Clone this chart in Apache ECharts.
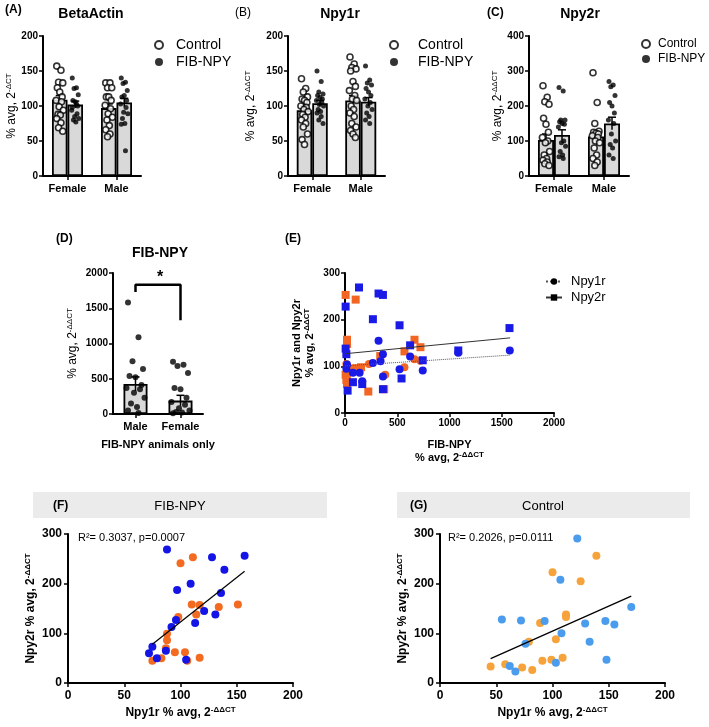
<!DOCTYPE html>
<html>
<head>
<meta charset="utf-8">
<script src="https://cdn.jsdelivr.net/npm/echarts/dist/echarts.min.js"></script>
<style>
html, body { margin: 0; padding: 0; background: #fff; }
#main { width: 709px; height: 727px; }
</style>
</head>
<body>
<div id="main"></div>
<script>
var sexes = ['Female', 'Male'];
var dSexes = ['Male', 'Female'];

// (A) BetaActin
var actinCtrlMean = [109, 97];
var actinCtrlSem = [6, 6];
var actinFibMean = [102, 105];
var actinFibSem = [5, 6];
var actinCtrlF = [157, 151, 134, 133, 126, 120, 113, 108, 106, 99, 94, 88, 87, 82, 76, 69, 64];
var actinCtrlM = [133, 133, 126, 126, 113, 113, 108, 101, 96, 89, 84, 80, 72, 66, 60, 56];
var actinFibF = [140, 126, 125, 116, 108, 106, 100, 94, 89, 85, 82, 80, 77, 98, 103];
var actinFibM = [140, 134, 132, 122, 113, 115, 108, 103, 98, 91, 89, 82, 75, 74, 36];

// (B) Npy1r
var y1CtrlMean = [94, 108];
var y1CtrlSem = [6, 7];
var y1FibMean = [104, 106];
var y1FibSem = [4, 6];
var y1CtrlF = [139, 125, 120, 113, 110, 108, 105, 100, 98, 95, 92, 88, 84, 80, 75, 70, 60, 52, 45];
var y1CtrlM = [170, 160, 155, 153, 150, 135, 128, 122, 115, 110, 108, 100, 95, 90, 85, 75, 70, 65, 60, 55];
var y1FibF = [150, 135, 120, 117, 115, 112, 110, 108, 105, 102, 100, 95, 92, 90, 85, 80, 75];
var y1FibM = [157, 137, 133, 130, 125, 120, 115, 110, 105, 100, 95, 90, 85, 80, 75];

// (C) Npy2r
var y2CtrlMean = [103, 113];
var y2CtrlSem = [17, 15];
var y2FibMean = [117, 150];
var y2FibSem = [15, 18];
var y2CtrlF = [258, 225, 212, 205, 165, 148, 125, 110, 100, 95, 70, 60, 50, 45, 40, 35, 30];
var y2CtrlM = [295, 210, 150, 128, 125, 122, 120, 115, 110, 100, 95, 80, 60, 50, 40, 30];
var y2FibF = [253, 243, 160, 160, 155, 150, 148, 140, 100, 95, 85, 70, 60, 55, 50];
var y2FibM = [270, 260, 255, 230, 210, 200, 180, 160, 150, 120, 100, 90, 80, 60, 50];

// (D) FIB-NPY animals only
var fibMean = [426, 190];
var fibSem = [100, 75];
var fibMale = [1580, 1090, 750, 640, 540, 520, 410, 370, 350, 300, 230, 150, 100, 50, 15];
var fibFemale = [740, 700, 680, 580, 370, 350, 230, 170, 130, 80, 50, 30, 20, 10];
var bracketY = [1730, 1835, 1835, 1330];

// (E) receptor expression vs FIB-NPY
var eBlueNpy1 = [[321, 155], [363, 126], [340, 111], [267, 107], [623, 121], [522, 94], [744, 91], [363, 78], [76, 86], [140, 86], [165, 68], [19, 104], [13, 95], [1577, 134], [1084, 129]];
var eBlueNpy2 = [[134, 269], [321, 256], [363, 253], [6, 228], [267, 201], [522, 188], [623, 145], [744, 113], [541, 74], [1084, 134], [1574, 182], [25, 48], [76, 66], [165, 62], [363, 51], [6, 138], [13, 126]];
var eOrangeNpy1 = [[385, 82], [569, 98], [665, 115], [722, 112], [229, 105], [13, 105], [38, 96], [13, 85], [19, 75]];
var eOrangeNpy2 = [[6, 253], [102, 243], [19, 157], [19, 148], [665, 157], [569, 132], [722, 141], [153, 98], [102, 96], [223, 46], [375, 51], [6, 82], [13, 71], [19, 62], [337, 122]];
var eFitNpy1 = [[0, 101], [1580, 124]];
var eFitNpy2 = [[0, 127], [1580, 161]];

// (F) FIB-NPY: Npy1r vs Npy2r
var fBlue = [[88, 269], [128, 253], [157, 256], [139, 228], [109, 200], [97, 187], [136, 181], [121, 145], [131, 138], [113, 121], [96, 127], [92, 113], [75, 73], [72, 60], [87, 65], [79, 50], [105, 47]];
var fOrange = [[111, 253], [100, 241], [110, 158], [117, 157], [134, 153], [151, 158], [114, 138], [98, 133], [88, 99], [88, 86], [87, 70], [95, 62], [104, 62], [117, 51], [83, 50], [75, 45], [106, 45]];
var fFit = [[75, 78], [157, 225]];

// (G) Control: Npy1r vs Npy2r
var gBlue = [[122, 291], [107, 208], [170, 153], [55, 128], [72, 126], [93, 125], [129, 120], [147, 125], [155, 118], [108, 100], [76, 79], [133, 83], [148, 47], [103, 41], [62, 34], [67, 23]];
var gOrange = [[139, 256], [100, 223], [125, 205], [112, 138], [112, 133], [89, 121], [79, 83], [103, 88], [109, 51], [99, 47], [91, 45], [58, 38], [45, 33], [73, 31], [82, 26]];
var gFit = [[45, 49], [170, 175]];

var FONT = 'Liberation Sans';
var jitter = [-5, 2, -2, 5, -4, 0, 4, -6, 3, -1, 6, -3, 1];

var axisLine = { show: true, lineStyle: { color: '#000', width: 2 } };
var axisTick = { show: true, length: 4, lineStyle: { color: '#000', width: 1.5 } };
var supRich = { sup: { fontSize: 8, verticalAlign: 'top', lineHeight: 14, fontFamily: FONT, color: '#000' } };
var supRichBold = { sup: { fontSize: 8, fontWeight: 'bold', verticalAlign: 'top', lineHeight: 14, fontFamily: FONT, color: '#000' } };
var plain = function (v) { return String(v); };

function catAxis(gi, cats) {
  return {
    type: 'category', gridIndex: gi, data: cats,
    axisLine: axisLine, axisTick: { show: true, alignWithLabel: true, length: 4, lineStyle: { color: '#000', width: 1.5 } },
    axisLabel: { interval: 0, color: '#000', fontWeight: 'bold', fontSize: 11, fontFamily: FONT, margin: 7 }
  };
}

function valAxis(gi, max, interval, opts) {
  var o = {
    type: 'value', gridIndex: gi, min: 0, max: max, interval: interval,
    axisLine: axisLine, axisTick: axisTick, splitLine: { show: false },
    axisLabel: { formatter: plain, color: '#000', fontWeight: 'bold', fontSize: 10, fontFamily: FONT, margin: 5 }
  };
  for (var k in opts) o[k] = opts[k];
  return o;
}

function dots(groups, shift, spread) {
  var out = [];
  groups.forEach(function (vals, c) {
    vals.forEach(function (v, i) {
      out.push({ value: [c, v], symbolOffset: [shift + jitter[i % jitter.length] * spread, 0] });
    });
  });
  return out;
}

function errSeries(gi, means, sems, shift) {
  return {
    type: 'custom', xAxisIndex: gi, yAxisIndex: gi, silent: true, z: 4,
    data: means.map(function (m, i) { return [i, m, sems[i]]; }),
    renderItem: function (params, api) {
      var c = api.value(0), m = api.value(1), s = api.value(2);
      var top = api.coord([c, m + s]);
      var bot = api.coord([c, m - s]);
      var x = top[0] + shift;
      return {
        type: 'group', children: [
          { type: 'line', shape: { x1: x, y1: bot[1], x2: x, y2: top[1] }, style: { stroke: '#000', lineWidth: 1.5 } },
          { type: 'line', shape: { x1: x - 4, y1: top[1], x2: x + 4, y2: top[1] }, style: { stroke: '#000', lineWidth: 1.5 } }
        ]
      };
    }
  };
}

function barStyle() {
  return { color: '#d9d9d9', borderColor: '#000', borderWidth: 1.8 };
}

function barPanel(gi, ctrlMean, ctrlSem, fibMean, fibSem, ctrlF, ctrlM, fibF, fibM, bw) {
  var half = bw / 2;
  return [
    { type: 'bar', name: 'Control mean', xAxisIndex: gi, yAxisIndex: gi, data: ctrlMean, barWidth: bw, barGap: '0%', itemStyle: barStyle(), silent: true },
    { type: 'bar', name: 'FIB-NPY mean', xAxisIndex: gi, yAxisIndex: gi, data: fibMean, barWidth: bw, barGap: '0%', itemStyle: barStyle(), silent: true },
    errSeries(gi, ctrlMean, ctrlSem, -half),
    errSeries(gi, fibMean, fibSem, half),
    { type: 'scatter', name: 'Control', xAxisIndex: gi, yAxisIndex: gi, z: 5, symbolSize: 6,
      itemStyle: { color: '#fff', borderColor: '#000', borderWidth: 1.6 }, data: dots([ctrlF, ctrlM], -half, 0.6) },
    { type: 'scatter', name: 'FIB-NPY', xAxisIndex: gi, yAxisIndex: gi, z: 5, symbolSize: 5,
      itemStyle: { color: '#000' }, data: dots([fibF, fibM], half, 0.6) }
  ];
}

function fitLine(gi, name, data, dashed) {
  return {
    type: 'line', name: name, xAxisIndex: gi, yAxisIndex: gi, data: data,
    symbol: name === 'Npy2r' ? 'rect' : 'circle', symbolSize: 7, showSymbol: false, silent: true, z: 6,
    itemStyle: { color: '#000' },
    lineStyle: { color: dashed ? '#555' : '#333', width: 1, type: dashed ? 'dotted' : 'solid' }
  };
}

function pts(gi, data, color, symbol) {
  return { type: 'scatter', xAxisIndex: gi, yAxisIndex: gi, data: data, symbol: symbol, symbolSize: 8, itemStyle: { color: color, opacity: 1 }, z: 3 };
}

function legendAt(left, top, pad, size) {
  return {
    orient: 'vertical', left: left, top: top, padding: 0, itemGap: 3, itemWidth: 8, itemHeight: 8,
    selectedMode: false,
    textStyle: { fontSize: size, fontFamily: FONT, color: '#000', padding: [0, 0, 0, pad] },
    data: [
      { name: 'Control', icon: 'circle', itemStyle: { color: '#fff', borderColor: '#000', borderWidth: 2 } },
      { name: 'FIB-NPY', icon: 'circle', itemStyle: { color: '#000', borderWidth: 0 } }
    ]
  };
}

function txt(x, y, text, font, align) {
  return { type: 'text', x: x, y: y, silent: true,
    style: { text: text, font: font, fill: '#000', textAlign: align || 'left', align: align || 'left', textVerticalAlign: 'middle', verticalAlign: 'middle' } };
}

var yNameDCT = '% avg, 2{sup|-ΔCT}';
var yNameDDCT = '% avg, 2{sup|-ΔΔCT}';
var scatLabel = { formatter: plain, color: '#000', fontWeight: 'bold', fontSize: 12, fontFamily: FONT, margin: 7 };

var option = {
  backgroundColor: '#fff',
  animation: false,
  textStyle: { fontFamily: FONT },
  grid: [
    { left: 43, top: 36, width: 98, height: 140 },
    { left: 288, top: 36, width: 97, height: 140 },
    { left: 529, top: 36, width: 100, height: 140 },
    { left: 113, top: 273, width: 90, height: 141 },
    { left: 345, top: 273, width: 209, height: 140 },
    { left: 68, top: 534, width: 225, height: 149 },
    { left: 440, top: 534, width: 225, height: 149 }
  ],
  xAxis: [
    catAxis(0, sexes),
    catAxis(1, sexes),
    catAxis(2, sexes),
    (function () { var a = catAxis(3, dSexes); a.name = 'FIB-NPY animals only'; a.nameLocation = 'middle'; a.nameGap = 25;
      a.nameTextStyle = { fontWeight: 'bold', fontSize: 11, color: '#000', fontFamily: FONT }; return a; })(),
    valAxis(4, 2000, 500, { name: 'FIB-NPY\n% avg, 2{sup|-ΔΔCT}', nameLocation: 'middle', nameGap: 26,
      nameTextStyle: { fontWeight: 'bold', fontSize: 11, color: '#000', fontFamily: FONT, lineHeight: 12, rich: supRichBold } }),
    valAxis(5, 200, 50, { name: 'Npy1r % avg, 2{sup|-ΔΔCT}', nameLocation: 'middle', nameGap: 23,
      axisLabel: scatLabel,
      nameTextStyle: { fontWeight: 'bold', fontSize: 12, color: '#000', fontFamily: FONT, rich: supRichBold } }),
    valAxis(6, 200, 50, { name: 'Npy1r % avg, 2{sup|-ΔΔCT}', nameLocation: 'middle', nameGap: 23,
      axisLabel: scatLabel,
      nameTextStyle: { fontWeight: 'bold', fontSize: 12, color: '#000', fontFamily: FONT, rich: supRichBold } })
  ],
  yAxis: [
    valAxis(0, 200, 50, { name: yNameDCT, nameLocation: 'middle', nameGap: 17,
      nameTextStyle: { fontSize: 12, color: '#000', fontFamily: FONT, rich: supRich } }),
    valAxis(1, 200, 50, { name: yNameDDCT, nameLocation: 'middle', nameGap: 30,
      nameTextStyle: { fontSize: 12, color: '#000', fontFamily: FONT, rich: supRich } }),
    valAxis(2, 400, 100, { name: yNameDDCT, nameLocation: 'middle', nameGap: 24,
      nameTextStyle: { fontSize: 12, color: '#000', fontFamily: FONT, rich: supRich } }),
    valAxis(3, 2000, 500, { name: yNameDDCT, nameLocation: 'middle', nameGap: 33,
      nameTextStyle: { fontSize: 12, color: '#000', fontFamily: FONT, rich: supRich } }),
    valAxis(4, 300, 100, { name: 'Npy1r and Npy2r\n% avg, 2{sup|-ΔΔCT}', nameLocation: 'middle', nameGap: 28,
      nameTextStyle: { fontWeight: 'bold', fontSize: 11, color: '#000', fontFamily: FONT, lineHeight: 13, rich: supRichBold } }),
    valAxis(5, 300, 100, { name: 'Npy2r % avg, 2{sup|-ΔΔCT}', nameLocation: 'middle', nameGap: 30,
      axisLabel: { formatter: plain, color: '#000', fontWeight: 'bold', fontSize: 12, fontFamily: FONT, margin: 6 },
      nameTextStyle: { fontWeight: 'bold', fontSize: 12, color: '#000', fontFamily: FONT, rich: supRichBold } }),
    valAxis(6, 300, 100, { name: 'Npy2r % avg, 2{sup|-ΔΔCT}', nameLocation: 'middle', nameGap: 30,
      axisLabel: { formatter: plain, color: '#000', fontWeight: 'bold', fontSize: 12, fontFamily: FONT, margin: 6 },
      nameTextStyle: { fontWeight: 'bold', fontSize: 12, color: '#000', fontFamily: FONT, rich: supRichBold } })
  ],
  legend: [
    legendAt(154, 38, 8, 14),
    legendAt(389, 38, 15, 14),
    legendAt(641, 38, 3, 12),
    {
      orient: 'vertical', left: 545, top: 275, padding: 0, itemGap: 3, itemWidth: 16, itemHeight: 8,
      selectedMode: false,
      textStyle: { fontSize: 13, fontFamily: FONT, color: '#000', padding: [0, 0, 0, 4] },
      data: ['Npy1r', 'Npy2r']
    }
  ],
  graphic: [
    { type: 'rect', shape: { x: 33, y: 492, width: 294, height: 26 }, style: { fill: '#ebebeb' }, silent: true },
    { type: 'rect', shape: { x: 397, y: 492, width: 293, height: 26 }, style: { fill: '#ebebeb' }, silent: true },
    txt(5, 10, '(A)', 'bold 12px ' + FONT),
    txt(235, 13, '(B)', '12px ' + FONT),
    txt(487, 13, '(C)', 'bold 12px ' + FONT),
    txt(56, 239, '(D)', 'bold 12px ' + FONT),
    txt(285, 239, '(E)', 'bold 12px ' + FONT),
    txt(53, 506, '(F)', 'bold 12px ' + FONT),
    txt(410, 506, '(G)', 'bold 12px ' + FONT),
    txt(91, 14, 'BetaActin', 'bold 14px ' + FONT, 'center'),
    txt(340, 14, 'Npy1r', 'bold 14px ' + FONT, 'center'),
    txt(580, 14, 'Npy2r', 'bold 14px ' + FONT, 'center'),
    txt(160, 253, 'FIB-NPY', 'bold 14px ' + FONT, 'center'),
    txt(160, 278, '*', 'bold 16px ' + FONT, 'center'),
    txt(180, 506, 'FIB-NPY', '13px ' + FONT, 'center'),
    txt(543, 506, 'Control', '13px ' + FONT, 'center'),
    txt(78, 538, 'R²= 0.3037, p=0.0007', '11px ' + FONT),
    txt(448, 538, 'R²= 0.2026, p=0.0111', '11px ' + FONT)
  ],
  series: [].concat(
    barPanel(0, actinCtrlMean, actinCtrlSem, actinFibMean, actinFibSem, actinCtrlF, actinCtrlM, actinFibF, actinFibM, 15.5),
    barPanel(1, y1CtrlMean, y1CtrlSem, y1FibMean, y1FibSem, y1CtrlF, y1CtrlM, y1FibF, y1FibM, 15.5),
    barPanel(2, y2CtrlMean, y2CtrlSem, y2FibMean, y2FibSem, y2CtrlF, y2CtrlM, y2FibF, y2FibM, 16),
    [
      { type: 'bar', xAxisIndex: 3, yAxisIndex: 3, data: fibMean, barWidth: 24, itemStyle: barStyle(), silent: true },
      errSeries(3, fibMean, fibSem, 0),
      { type: 'scatter', xAxisIndex: 3, yAxisIndex: 3, z: 5, symbolSize: 6, itemStyle: { color: '#000' },
        data: dots([fibMale, fibFemale], 0, 1.5) },
      { type: 'line', xAxisIndex: 3, yAxisIndex: 3, silent: true, symbol: 'none', z: 6,
        lineStyle: { color: '#000', width: 2.5 },
        data: [[dSexes[0], bracketY[0]], [dSexes[0], bracketY[1]], [dSexes[1], bracketY[2]], [dSexes[1], bracketY[3]]] },
      pts(4, eOrangeNpy2, '#f26522', 'rect'),
      pts(4, eOrangeNpy1, '#f26522', 'circle'),
      pts(4, eBlueNpy2, '#1a1ae6', 'rect'),
      pts(4, eBlueNpy1, '#1a1ae6', 'circle'),
      fitLine(4, 'Npy1r', eFitNpy1, true),
      fitLine(4, 'Npy2r', eFitNpy2, false),
      pts(5, fOrange, '#f26b21', 'circle'),
      pts(5, fBlue, '#1414e6', 'circle'),
      { type: 'line', xAxisIndex: 5, yAxisIndex: 5, data: fFit, symbol: 'none', silent: true, z: 6, lineStyle: { color: '#000', width: 1.2 } },
      pts(6, gOrange, '#f5a33a', 'circle'),
      pts(6, gBlue, '#4b9cec', 'circle'),
      { type: 'line', xAxisIndex: 6, yAxisIndex: 6, data: gFit, symbol: 'none', silent: true, z: 6, lineStyle: { color: '#000', width: 1.2 } }
    ]
  )
};

var myChart = echarts.init(document.getElementById('main'));
myChart.setOption(option);
</script>
</body>
</html>
